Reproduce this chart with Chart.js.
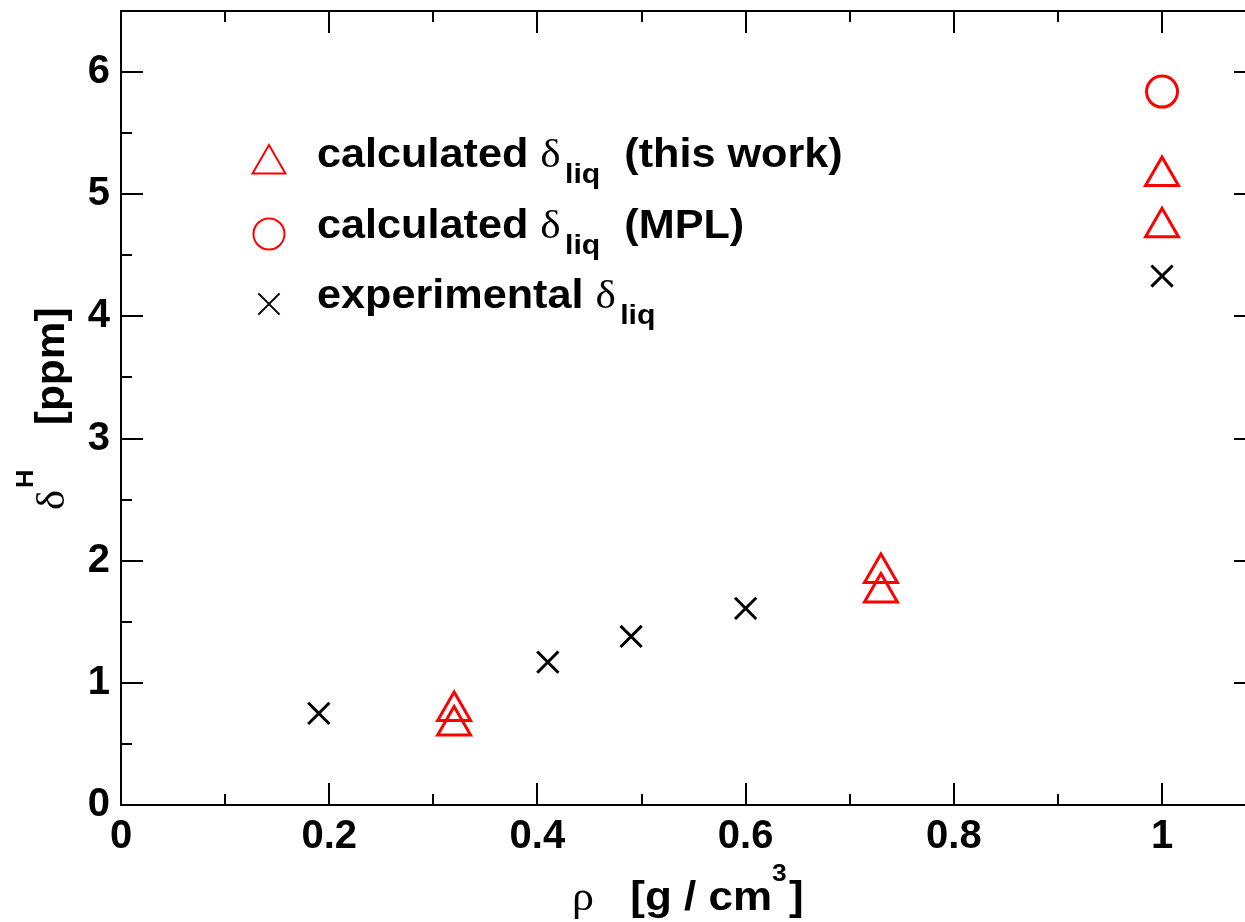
<!DOCTYPE html>
<html>
<head>
<meta charset="utf-8">
<script src="https://cdn.jsdelivr.net/npm/chart.js@4.4.1/dist/chart.umd.min.js"></script>
<style>
  html, body { margin: 0; padding: 0; background: #fff; }
  canvas { display: block; }
</style>
</head>
<body>
<canvas id="chart" width="1245" height="922"></canvas>
<script>
// Chemical shift vs density

// calculated delta_liq (this work)
const thisWorkX = [0.32, 0.32, 0.73, 0.73, 1.0, 1.0];
const thisWorkY = [0.77, 0.65, 1.90, 1.74, 5.15, 4.73];
// calculated delta_liq (MPL)
const mplX = [1.0];
const mplY = [5.84];
// experimental delta_liq
const expX = [0.19, 0.41, 0.49, 0.60, 1.0];
const expY = [0.75, 1.17, 1.38, 1.61, 4.33];

// axis ticks
const xTickValues = [0, 0.2, 0.4, 0.6, 0.8, 1];
const xTickLabels = ['0', '0.2', '0.4', '0.6', '0.8', '1'];
const xMinorValues = [0.1, 0.3, 0.5, 0.7, 0.9];
const yTickValues = [0, 1, 2, 3, 4, 5, 6];
const yTickLabels = ['0', '1', '2', '3', '4', '5', '6'];
const yMinorValues = [0.5, 1.5, 2.5, 3.5, 4.5, 5.5];

// the original frame ends just past the picture's right edge
const xFrameMax = 1.09;

const RED = '#ff0000';
const BLACK = '#000000';
const SANS = 'Liberation Sans';
const SERIF = 'Liberation Serif';

const toPoints = (xs, ys) => xs.map((x, i) => ({ x: x, y: ys[i] }));

// draw a row of text pieces (for sub/superscripts and symbol glyphs)
function drawParts(ctx, x, y, parts, sx) {
    ctx.save();
    ctx.translate(x, y);
    ctx.scale(sx, 1);
    let cx = 0;
    parts.forEach(p => {
        ctx.font = p.font;
        if (p.at !== undefined) cx = p.at;
        cx += p.dx || 0;
        ctx.fillText(p.t, cx, p.dy || 0);
        cx += ctx.measureText(p.t).width;
    });
    ctx.restore();
}

// frame, inward ticks on all sides, titles and legend
const decorPlugin = {
    id: 'decor',
    afterDraw(chart) {
        const ctx = chart.ctx;
        const a = chart.chartArea;
        const xs = chart.scales.x;
        const ys = chart.scales.y;
        const right = Math.round(xs.getPixelForValue(xFrameMax));

        ctx.save();
        ctx.strokeStyle = BLACK;
        ctx.lineWidth = 2;
        ctx.strokeRect(a.left, a.top, right - a.left, a.bottom - a.top);

        ctx.beginPath();
        const xTick = (v, len) => {
            const px = Math.round(xs.getPixelForValue(v));
            ctx.moveTo(px, a.bottom); ctx.lineTo(px, a.bottom - len);
            ctx.moveTo(px, a.top); ctx.lineTo(px, a.top + len);
        };
        const yTick = (v, len) => {
            const py = Math.round(ys.getPixelForValue(v));
            ctx.moveTo(a.left, py); ctx.lineTo(a.left + len, py);
            ctx.moveTo(right, py); ctx.lineTo(right - len, py);
        };
        xTickValues.forEach(v => xTick(v, 22));
        xMinorValues.forEach(v => xTick(v, 11));
        yTickValues.forEach(v => yTick(v, 22));
        yMinorValues.forEach(v => yTick(v, 11));
        ctx.stroke();

        ctx.fillStyle = BLACK;
        ctx.textBaseline = 'alphabetic';
        ctx.textAlign = 'left';

        // x title
        drawParts(ctx, 572, 910, [
            { t: 'ρ', font: `40px "${SERIF}"` },
            { t: '[g / cm', font: `bold 40px "${SANS}"`, at: 53 },
            { t: '3', font: `bold 24px "${SANS}"`, dy: -29 },
            { t: ']', font: `bold 40px "${SANS}"`, dx: 2 }
        ], 1.1);

        // y title (rotated)
        ctx.save();
        ctx.translate(64, 510);
        ctx.rotate(-Math.PI / 2);
        drawParts(ctx, 0, 0, [
            { t: 'δ', font: `40px "${SERIF}"` },
            { t: 'H', font: `bold 24px "${SANS}"`, dy: -31, dx: 2 },
            { t: '[ppm]', font: `bold 40px "${SANS}"`, at: 80 }
        ], 1.06);
        ctx.restore();

        // legend
        const rows = [
            { ds: 0, y: 167, after: '  (this work)', head: 'calculated ' },
            { ds: 1, y: 238, after: '  (MPL)', head: 'calculated ' },
            { ds: 2, y: 308, after: '', head: 'experimental ' }
        ];
        const markerY = [164, 234, 304];
        rows.forEach((r, i) => {
            const ds = chart.data.datasets[r.ds];
            ctx.save();
            ctx.strokeStyle = ds.borderColor;
            ctx.fillStyle = 'rgba(0,0,0,0)';
            Chart.helpers.drawPoint(ctx, {
                pointStyle: ds.pointStyle,
                radius: ds.pointRadius,
                borderWidth: ds.borderWidth,
                rotation: 0
            }, 269, markerY[i]);
            ctx.restore();
            drawParts(ctx, 317, r.y, [
                { t: r.head, font: `bold 40px "${SANS}"` },
                { t: 'δ', font: `40px "${SERIF}"` },
                { t: 'liq', font: `bold 28px "${SANS}"`, dy: 16, dx: 4 },
                { t: r.after, font: `bold 40px "${SANS}"` }
            ], 1.08);
        });
        ctx.restore();
    }
};

const tickFont = { family: SANS, size: 40, weight: 'bold' };

new Chart(document.getElementById('chart').getContext('2d'), {
    type: 'scatter',
    data: {
        datasets: [
            {
                label: 'calculated δliq (this work)',
                data: toPoints(thisWorkX, thisWorkY),
                pointStyle: 'triangle',
                pointRadius: 19,
                borderWidth: 3,
                borderColor: RED,
                backgroundColor: 'rgba(0,0,0,0)'
            },
            {
                label: 'calculated δliq (MPL)',
                data: toPoints(mplX, mplY),
                pointStyle: 'circle',
                pointRadius: 15.5,
                borderWidth: 3,
                borderColor: RED,
                backgroundColor: 'rgba(0,0,0,0)'
            },
            {
                label: 'experimental δliq',
                data: toPoints(expX, expY),
                pointStyle: 'crossRot',
                pointRadius: 15,
                borderWidth: 3,
                borderColor: BLACK,
                backgroundColor: 'rgba(0,0,0,0)'
            }
        ]
    },
    options: {
        responsive: false,
        devicePixelRatio: 1,
        animation: false,
        layout: { autoPadding: false, padding: { left: 0, right: 0, top: 11, bottom: 0 } },
        plugins: {
            legend: { display: false },
            tooltip: { enabled: false }
        },
        scales: {
            x: {
                type: 'linear',
                min: 0,
                max: 1.0797,
                grid: { display: false, drawTicks: false },
                border: { display: false },
                afterBuildTicks: s => { s.ticks = xTickValues.map(v => ({ value: v })); },
                afterFit: s => {
                    s.height = 117;
                    s.paddingLeft = 0; s.paddingRight = 0;
                    s.paddingTop = 0; s.paddingBottom = 0;
                },
                ticks: {
                    font: tickFont,
                    color: BLACK,
                    padding: 8,
                    autoSkip: false,
                    maxRotation: 0,
                    callback: (v, i) => xTickLabels[i]
                }
            },
            y: {
                type: 'linear',
                min: 0,
                max: 6.5,
                grid: { display: false, drawTicks: false },
                border: { display: false },
                afterBuildTicks: s => { s.ticks = yTickValues.map(v => ({ value: v })); },
                afterFit: s => {
                    s.width = 121;
                    s.paddingLeft = 0; s.paddingRight = 0;
                    s.paddingTop = 0; s.paddingBottom = 0;
                },
                ticks: {
                    font: tickFont,
                    color: BLACK,
                    padding: 11,
                    autoSkip: false,
                    callback: (v, i) => yTickLabels[i]
                }
            }
        }
    },
    plugins: [decorPlugin]
});
</script>
</body>
</html>
